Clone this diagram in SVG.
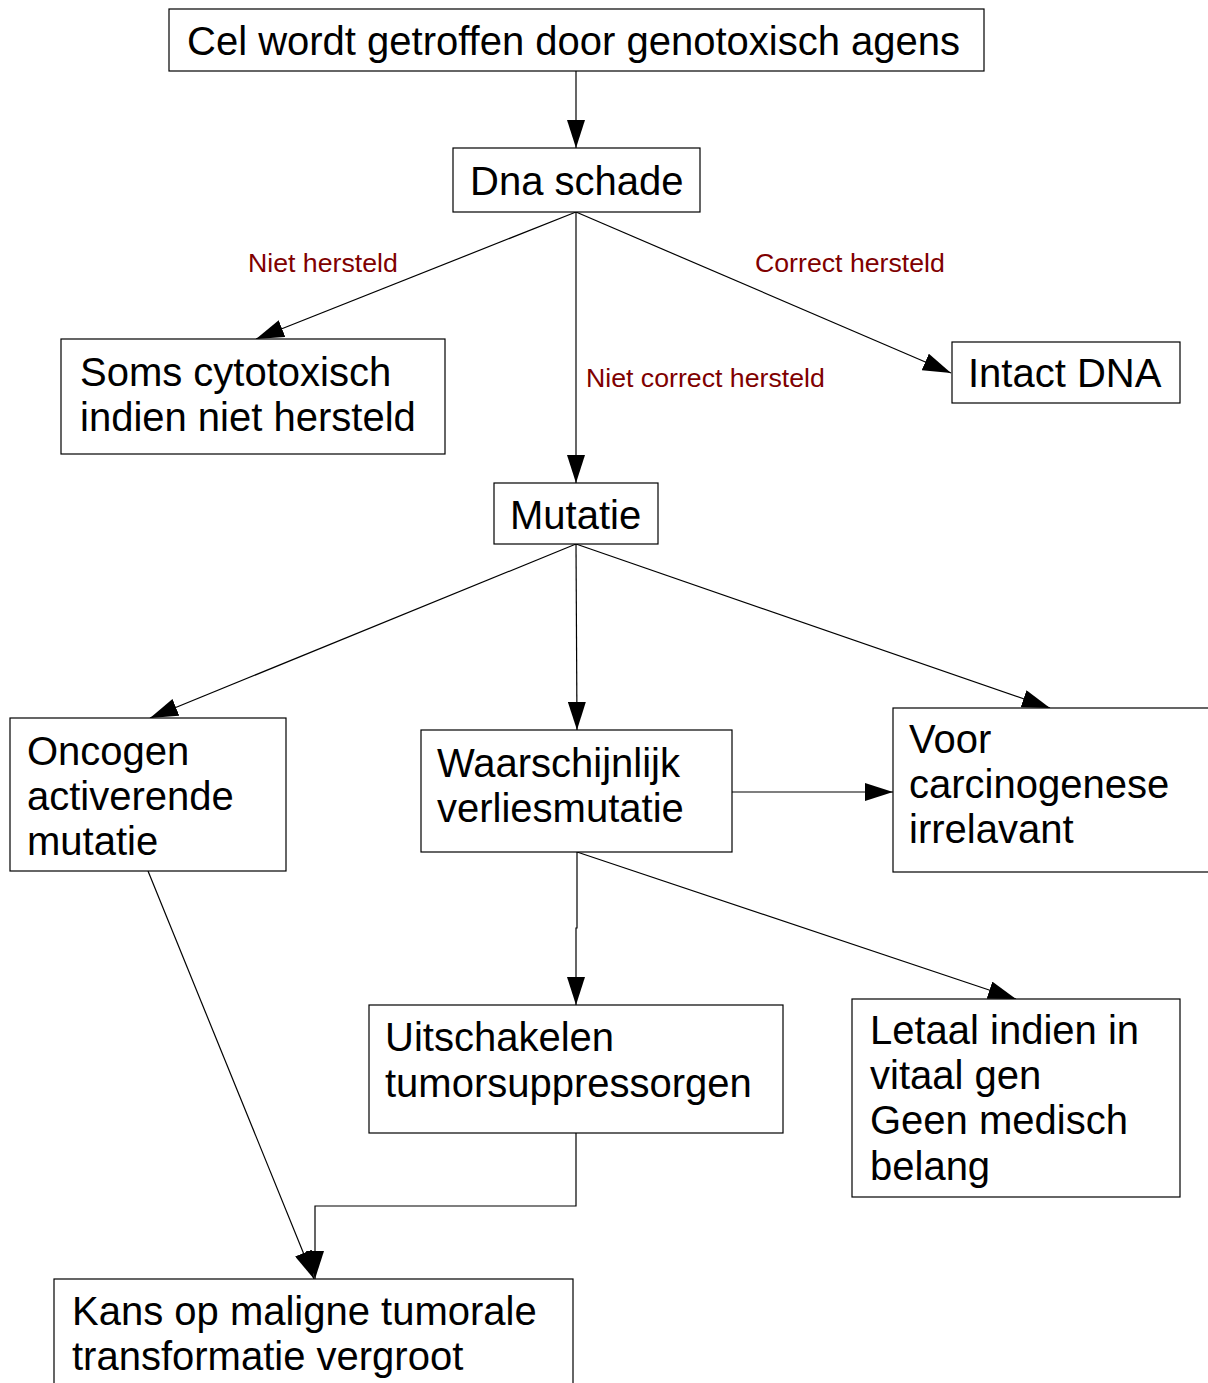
<svg xmlns="http://www.w3.org/2000/svg" width="1208" height="1383" viewBox="0 0 1208 1383">
<style>
.box{fill:#fff;stroke:#000;stroke-width:1.2}
.t{font-family:"Liberation Sans",Arial,sans-serif;font-size:40px;fill:#000}
.lbl{font-family:"Liberation Sans",Arial,sans-serif;font-size:26.7px;fill:#800000}
.c{fill:none;stroke:#000;stroke-width:1.2}
</style>
<defs>
<marker id="ah" viewBox="0 0 28 18" refX="28" refY="9" markerWidth="28" markerHeight="18" markerUnits="userSpaceOnUse" orient="auto">
<path d="M0,0 L28,9 L0,18 z" fill="#000"/>
</marker>
</defs>
<rect width="1208" height="1383" fill="#fff"/>
<g id="connectors">
<path class="c" d="M576,71 L576,148" marker-end="url(#ah)"/>
<path class="c" d="M576,212 L256,339" marker-end="url(#ah)"/>
<path class="c" d="M576,212 L951,373" marker-end="url(#ah)"/>
<path class="c" d="M576,212 L576,483" marker-end="url(#ah)"/>
<path class="c" d="M576,544 L150,718" marker-end="url(#ah)"/>
<path class="c" d="M576,544 L577,730" marker-end="url(#ah)"/>
<path class="c" d="M576,544 L1050,708" marker-end="url(#ah)"/>
<path class="c" d="M732,792 L893,792" marker-end="url(#ah)"/>
<path class="c" d="M577,852 L577,928 L576,928 L576,1005" marker-end="url(#ah)"/>
<path class="c" d="M577,852 L1016,999" marker-end="url(#ah)"/>
<path class="c" d="M148,871 L314,1279" marker-end="url(#ah)"/>
<path class="c" d="M576,1133 L576,1206 L315,1206 L315,1279" marker-end="url(#ah)"/>
<text class="lbl" x="248" y="272">Niet hersteld</text>
<text class="lbl" x="755" y="272">Correct hersteld</text>
<text class="lbl" x="586" y="387">Niet correct hersteld</text>
</g>
<g id="n1"><rect class="box" x="169" y="9" width="815" height="62"/><text class="t" x="187" y="55">Cel wordt getroffen door genotoxisch agens</text></g>
<g id="n2"><rect class="box" x="453" y="148" width="247" height="64"/><text class="t" x="470" y="195">Dna schade</text></g>
<g id="n3"><rect class="box" x="61" y="339" width="384" height="115"/><text class="t" x="80" y="386">Soms cytotoxisch</text><text class="t" x="80" y="431">indien niet hersteld</text></g>
<g id="n4"><rect class="box" x="952" y="342" width="228" height="61"/><text class="t" x="968" y="387">Intact DNA</text></g>
<g id="n5"><rect class="box" x="494" y="483" width="164" height="61"/><text class="t" x="510" y="529">Mutatie</text></g>
<g id="n6"><rect class="box" x="10" y="718" width="276" height="153"/><text class="t" x="27" y="765">Oncogen</text><text class="t" x="27" y="810">activerende</text><text class="t" x="27" y="855">mutatie</text></g>
<g id="n7"><rect class="box" x="421" y="730" width="311" height="122"/><text class="t" x="437" y="777">Waarschijnlijk</text><text class="t" x="437" y="822">verliesmutatie</text></g>
<g id="n8"><rect class="box" x="893" y="708" width="330" height="164"/><text class="t" x="909" y="753">Voor</text><text class="t" x="909" y="798">carcinogenese</text><text class="t" x="909" y="843">irrelavant</text></g>
<g id="n9"><rect class="box" x="369" y="1005" width="414" height="128"/><text class="t" x="385" y="1051">Uitschakelen</text><text class="t" x="385" y="1097">tumorsuppressorgen</text></g>
<g id="n10"><rect class="box" x="852" y="999" width="328" height="198"/><text class="t" x="870" y="1044">Letaal indien in</text><text class="t" x="870" y="1089">vitaal gen</text><text class="t" x="870" y="1134">Geen medisch</text><text class="t" x="870" y="1180">belang</text></g>
<g id="n11"><rect class="box" x="54" y="1279" width="519" height="120"/><text class="t" x="72" y="1325">Kans op maligne tumorale</text><text class="t" x="72" y="1370">transformatie vergroot</text></g>
</svg>
